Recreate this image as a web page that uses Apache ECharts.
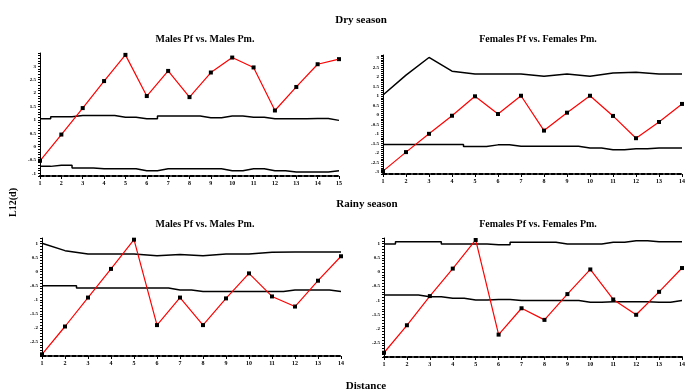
<!DOCTYPE html>
<html><head><meta charset="utf-8">
<script src="https://cdn.jsdelivr.net/npm/echarts@6/dist/echarts.min.js"></script>
<style>html,body{margin:0;padding:0;background:#fff}#c{width:689px;height:390px}</style>
</head><body><div id="c"></div>
<script>
// ---- data ----
const distTL = ['1','2','3','4','5','6','7','8','9','10','11','12','13','14','15'];
const distTR = ['1','2','3','4','5','6','7','8','9','10','11','12','13','14'];
const distBL = ['1','2','3','4','5','6','7','8','9','10','11','12','13','14'];
const distBR = ['1','2','3','4','5','6','7','8','9','10','11','12','13','14'];

const tlObs = [-0.53,0.45,1.44,2.45,3.43,1.89,2.83,1.85,2.77,3.33,2.96,1.35,2.23,3.08,3.27];
const tlUp  = [1.04,1.12,1.16,1.16,1.10,1.04,1.14,1.14,1.08,1.14,1.10,1.04,1.04,1.05,0.98];
const tlLo  = [-0.74,-0.70,-0.80,-0.83,-0.83,-0.90,-0.83,-0.83,-0.83,-0.90,-0.83,-0.90,-0.95,-0.95,-0.90];

const trObs = [-2.95,-1.95,-0.99,-0.04,0.98,0.05,1.01,-0.82,0.12,1.01,-0.05,-1.22,-0.37,0.58];
const trUp  = [1.05,2.09,3.02,2.30,2.15,2.15,2.15,2.04,2.15,2.04,2.21,2.24,2.15,2.15];
const trLo  = [-1.55,-1.55,-1.55,-1.55,-1.66,-1.57,-1.64,-1.64,-1.64,-1.73,-1.83,-1.78,-1.73,-1.73];

const blObs = [-2.94,-1.95,-0.92,0.10,1.14,-1.90,-0.92,-1.90,-0.95,-0.06,-0.88,-1.24,-0.32,0.55];
const blUp  = [1.01,0.75,0.63,0.63,0.63,0.57,0.61,0.57,0.63,0.63,0.69,0.70,0.70,0.70];
const blLo  = [-0.50,-0.50,-0.58,-0.58,-0.58,-0.58,-0.65,-0.70,-0.70,-0.70,-0.70,-0.65,-0.65,-0.70];

const brObs = [-2.85,-1.88,-0.85,0.12,1.13,-2.21,-1.28,-1.69,-0.78,0.09,-0.97,-1.51,-0.70,0.14];
const brUp  = [0.99,1.07,1.07,0.99,0.99,0.96,1.05,1.05,0.99,0.99,1.05,1.10,1.07,1.07];
const brLo  = [-0.81,-0.81,-0.87,-0.93,-0.99,-0.97,-1.01,-1.01,-1.01,-1.07,-1.05,-1.05,-1.07,-1.01];

const tlTicks = [-1,-0.5,0,0.5,1,1.5,2,2.5,3];
const trTicks = [-3,-2.5,-2,-1.5,-1,-0.5,0,0.5,1,1.5,2,2.5,3];
const blTicks = [-2.5,-2,-1.5,-1,-0.5,0,0.5,1];
const brTicks = [-2.5,-2,-1.5,-1,-0.5,0,0.5,1];

// ---- chart ----
const FONT = 'Liberation Serif';
const grids = [
  {left:40, top:53, width:299, height:123},
  {left:383, top:55, width:299, height:119},
  {left:42, top:238, width:299, height:118},
  {left:384, top:238, width:298, height:119}
];
const ranges = [[-1.1,3.5],[-3.1,3.15],[-3.0,1.2],[-3.0,1.2]];
const cats = [distTL, distTR, distBL, distBR];
const labs = [tlTicks, trTicks, blTicks, brTicks];

const xAxis = cats.map((c,i)=>({
  type:'category', gridIndex:i, data:c, boundaryGap:false,
  axisLine:{onZero:false, lineStyle:{color:'#000', width:2, type:[4,2]}},
  axisTick:{show:true, length:3, inside:false, lineStyle:{color:'#000'}},
  axisLabel:{fontSize:6, fontFamily:FONT, fontWeight:'bold', color:'#000', margin:4, interval:0},
  splitLine:{show:false}
}));
const yAxis = ranges.map((r,i)=>({
  type:'value', gridIndex:i, min:r[0], max:r[1], interval:0.1,
  axisLine:{show:true, onZero:false, lineStyle:{color:'#000', width:1}},
  axisTick:{show:true, length:2, lineStyle:{color:'#000'}},
  axisLabel:{fontSize:5, fontFamily:FONT, fontWeight:'bold', color:'#000', margin:4, customValues:labs[i]},
  splitLine:{show:false}
}));

function env(data, i, step){
  return {type:'line', xAxisIndex:i, yAxisIndex:i, data:data, step:step?'middle':false,
    symbol:'none', lineStyle:{color:'#000', width:1.5}, z:2, silent:true};
}
function obs(data, i){
  return {type:'line', xAxisIndex:i, yAxisIndex:i, data:data,
    symbol:'rect', symbolSize:4, itemStyle:{color:'#000'},
    lineStyle:{color:'#ff0000', width:1.2}, z:3, silent:true};
}
const series = [
  env(tlUp,0,true), env(tlLo,0,true), obs(tlObs,0),
  env(trUp,1,false), env(trLo,1,true), obs(trObs,1),
  env(blUp,2,false), env(blLo,2,true), obs(blObs,2),
  env(brUp,3,true), env(brLo,3,true), obs(brObs,3)
];

const tstyle = (s)=>({fontFamily:FONT, fontWeight:'bold', fontSize:s, color:'#000'});
const title = [
  {text:'Dry season', left:356, top:10, textAlign:'center', textStyle:tstyle(11)},
  {text:'Males Pf vs. Males Pm.', left:200, top:29, textAlign:'center', textStyle:tstyle(10)},
  {text:'Females Pf vs. Females Pm.', left:533, top:29, textAlign:'center', textStyle:tstyle(10)},
  {text:'Rainy season', left:362, top:194, textAlign:'center', textStyle:tstyle(11)},
  {text:'Males Pf vs. Males Pm.', left:200, top:214, textAlign:'center', textStyle:tstyle(10)},
  {text:'Females Pf vs. Females Pm.', left:533, top:214, textAlign:'center', textStyle:tstyle(10)},
  {text:'Distance', left:361, top:376, textAlign:'center', textStyle:tstyle(11)}
];

const chart = echarts.init(document.getElementById('c'), null, {renderer:'canvas'});
chart.setOption({
  animation:false,
  backgroundColor:'#fff',
  title:title,
  grid:grids,
  xAxis:xAxis,
  yAxis:yAxis,
  series:series,
  graphic:[{type:'text', left:8, top:188, rotation:Math.PI/2,
    style:{text:'L12(d)', font:'bold 10px "Liberation Serif"', fill:'#000'}}]
});
</script></body></html>
